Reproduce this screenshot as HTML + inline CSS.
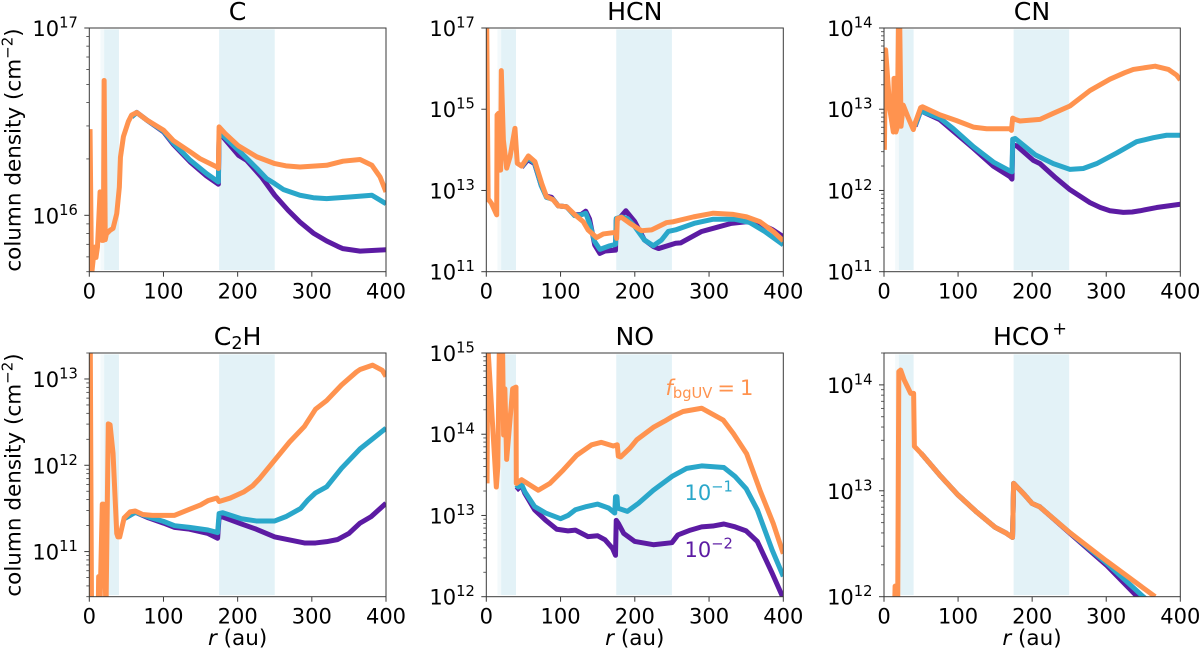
<!DOCTYPE html>
<html lang="en">
<head>
<meta charset="utf-8">
<title>Column density profiles</title>
<style>
  html,body{margin:0;padding:0;background:#fff;width:1200px;height:652px;overflow:hidden}
  svg{display:block;filter:blur(0.35px)}
  text{font-family:"DejaVu Sans","Liberation Sans",sans-serif;fill:#000}
  .title{font-size:25.2px;text-anchor:middle}
  .axis-label{font-size:21.5px}
  .tick{font-size:21px}
</style>
</head>
<body>
<svg id="figure" xmlns="http://www.w3.org/2000/svg" width="1200" height="652" viewBox="0 0 1200 652">
  <rect x="0" y="0" width="1200" height="652" fill="#fff"/>

  <g id="panel-c"></g>
  <g id="panel-hcn"></g>
  <g id="panel-cn"></g>
  <g id="panel-c2h"></g>
  <g id="panel-no"></g>
  <g id="panel-hco"></g>

  <text class="title" x="237.6" y="20">C</text>
  <text class="title" x="634.8" y="20">HCN</text>
  <text class="title" x="1032" y="20">CN</text>
  <text class="title" x="237.6" y="345">C<tspan font-size="17.6" dy="4">2</tspan><tspan dy="-4">H</tspan></text>
  <text class="title" x="634.8" y="345">NO</text>
  <text class="title" x="1030" y="345">HCO<tspan font-size="17.6" dy="-10.5" dx="3">+</tspan></text>

  <text class="axis-label" text-anchor="middle" transform="translate(20.5 150) rotate(-90)">column density (cm<tspan font-size="15" dy="-8">−2</tspan><tspan dy="8">)</tspan></text>
  <text class="axis-label" text-anchor="middle" transform="translate(20.5 475) rotate(-90)">column density (cm<tspan font-size="15" dy="-8">−2</tspan><tspan dy="8">)</tspan></text>

  <text class="axis-label" text-anchor="middle" x="237.6" y="645"><tspan font-style="italic">r</tspan> (au)</text>
  <text class="axis-label" text-anchor="middle" x="634.8" y="645"><tspan font-style="italic">r</tspan> (au)</text>
  <text class="axis-label" text-anchor="middle" x="1032" y="645"><tspan font-style="italic">r</tspan> (au)</text>

  <text x="665.5" y="395" font-size="21" style="fill:#FF934F"><tspan font-style="italic">f</tspan><tspan font-size="14.7" dy="3">bgUV</tspan><tspan dy="-3" dx="5">=</tspan><tspan dx="5">1</tspan></text>
  <text x="684.5" y="500" font-size="21" style="fill:#2AA7CA">10<tspan font-size="14.7" dy="-8.5">−1</tspan></text>
  <text x="684.5" y="557" font-size="21" style="fill:#5C1BA3">10<tspan font-size="14.7" dy="-8.5">−2</tspan></text>
</svg>

<script>
// ---- shared axis values ----
const xTickValues = [0, 100, 200, 300, 400];
const gapInnerFaint = [15, 20];
const gapInner = [20, 40];
const gapOuter = [175, 250];

// ---- y tick exponents per panel ----
const cTickExponents = [16, 17];
const hcnTickExponents = [11, 13, 15, 17];
const cnTickExponents = [11, 12, 13, 14];
const c2hTickExponents = [11, 12, 13];
const noTickExponents = [12, 13, 14, 15];
const hcoTickExponents = [12, 13, 14];

// ---- C: radius (au) and log10 column density ----
const cOrangeR = [1, 3, 7, 9, 11, 14.5, 17, 19, 20, 21.5, 23, 28, 32, 37, 40.5, 42, 46, 52.6, 57, 64, 77, 100, 113, 136, 149, 172, 174, 175, 183, 201, 226, 250, 265, 284, 320, 342, 365, 381, 392, 400];
const cOrangeLogN = [16.46, 15.68, 15.83, 15.775, 15.83, 16.125, 15.866, 15.866, 16.72, 15.87, 15.9, 15.92, 15.93, 16.009, 16.15, 16.31, 16.42, 16.5, 16.535, 16.549, 16.51, 16.455, 16.40, 16.339, 16.303, 16.258, 16.25, 16.472, 16.437, 16.371, 16.312, 16.276, 16.264, 16.258, 16.267, 16.289, 16.298, 16.267, 16.205, 16.125];
const cBlueR = [57, 64, 77, 100, 113, 136, 158, 174, 175, 181, 201, 226, 239, 250, 262, 284, 302, 320, 351, 381, 400];
const cBlueLogN = [16.526, 16.549, 16.51, 16.449, 16.387, 16.294, 16.223, 16.178, 16.446, 16.422, 16.348, 16.25, 16.196, 16.169, 16.137, 16.107, 16.094, 16.089, 16.098, 16.107, 16.062];
const cPurpleR = [57, 64, 77, 100, 113, 136, 158, 174, 175, 181, 201, 212, 232, 250, 268, 284, 302, 320, 335, 342, 365, 400];
const cPurpleLogN = [16.526, 16.549, 16.51, 16.446, 16.38, 16.285, 16.21, 16.166, 16.44, 16.415, 16.321, 16.294, 16.205, 16.107, 16.027, 15.964, 15.905, 15.863, 15.834, 15.822, 15.809, 15.816];

// ---- HCN ----
const hcnOrangeR = [0.5, 2.5, 3, 7, 14, 14.5, 16.6, 17.5, 19.3, 20.2, 23, 27.4, 32, 38.6, 41.7, 47.6, 56.6, 65.5, 74.5, 81, 90, 97, 108, 119.4, 130.6, 137, 148.6, 157.6, 174.6, 175.5, 176.5, 182, 193.5, 209, 222.7, 243, 252, 279, 305.7, 332.7, 350.6, 368.6, 386.5, 400];
const hcnOrangeLogN = [17.2, 12.765, 12.78, 12.68, 12.4, 14.86, 14.9, 13.5, 13.5, 15.95, 14.24, 13.55, 13.83, 14.53, 13.67, 13.6, 13.85, 13.71, 13.18, 12.85, 12.77, 12.62, 12.6, 12.4, 12.23, 12.03, 11.84, 11.93, 11.97, 11.82, 12.31, 12.34, 12.19, 12.01, 12.03, 12.21, 12.23, 12.35, 12.44, 12.41, 12.35, 12.23, 11.99, 11.76];
const hcnBlueR = [47.6, 56, 65, 74, 81, 90, 97, 108, 119, 128, 134, 139, 146, 153, 165, 174, 175, 182, 190, 200, 213, 225, 236, 245, 255, 280, 305, 335, 355, 375, 400];
const hcnBlueLogN = [13.58, 13.8, 13.68, 13.12, 12.83, 12.78, 12.62, 12.6, 12.38, 12.4, 12.44, 12.19, 11.74, 11.55, 11.63, 11.67, 12.31, 12.35, 12.31, 12.11, 11.78, 11.64, 11.78, 11.99, 12.03, 12.19, 12.29, 12.29, 12.21, 11.99, 11.66];
const hcnPurpleR = [47.6, 56, 65, 74, 81, 88, 97, 108, 119, 128, 134, 139, 146, 153, 160, 174, 175, 181, 188, 200, 213, 225, 232, 255, 262, 290, 310, 330, 350, 365, 385, 400];
const hcnPurpleLogN = [13.57, 13.76, 13.66, 13.12, 12.86, 12.83, 12.62, 12.6, 12.4, 12.41, 12.49, 12.3, 11.66, 11.45, 11.51, 11.53, 12.27, 12.35, 12.5, 12.23, 11.78, 11.62, 11.57, 11.7, 11.71, 11.99, 12.09, 12.19, 12.23, 12.21, 12.04, 11.86];

// ---- CN ----
const cnOrangeR = [0.5, 2.2, 8, 12.6, 13.5, 15.7, 16, 18, 19.8, 21, 23, 26, 33, 39.6, 42, 49.5, 52, 75.6, 98, 120.6, 138.6, 170, 172, 173.7, 177, 183.6, 210.6, 228.6, 251, 278, 305, 325, 336.6, 366, 384, 395, 400];
const cnOrangeLogN = [12.5, 13.73, 12.99, 12.72, 13.38, 13.38, 12.72, 12.78, 14.3, 14.2, 12.79, 13.05, 12.89, 12.75, 12.83, 13.02, 13.03, 12.93, 12.86, 12.78, 12.76, 12.76, 12.74, 12.89, 12.875, 12.855, 12.875, 12.95, 13.04, 13.23, 13.37, 13.45, 13.49, 13.53, 13.49, 13.42, 13.36];
const cnBlueR = [42, 49.5, 75.6, 93.6, 120.6, 147.6, 170, 172.8, 173.7, 177, 204, 228.6, 251, 269, 287, 314, 341, 363.6, 381.5, 400];
const cnBlueLogN = [12.8, 12.98, 12.89, 12.76, 12.54, 12.35, 12.24, 12.23, 12.63, 12.64, 12.44, 12.33, 12.26, 12.27, 12.33, 12.46, 12.6, 12.65, 12.68, 12.68];
const cnPurpleR = [42, 49.5, 75.6, 93.6, 120.6, 147.6, 170, 172.8, 173.7, 179, 201.6, 210.6, 230, 251, 278, 292, 305, 323, 335, 345.6, 368, 400];
const cnPurpleLogN = [12.79, 12.98, 12.87, 12.73, 12.52, 12.3, 12.17, 12.14, 12.56, 12.55, 12.37, 12.33, 12.17, 12.01, 11.85, 11.79, 11.75, 11.73, 11.735, 11.75, 11.79, 11.83];

// ---- C2H ----
const c2hOrangeR = [1, 3, 12, 12.6, 14, 17.5, 19, 22.5, 25.6, 28, 32, 37, 38.5, 41, 47, 55, 62, 72, 85, 115, 135, 150, 160, 172, 175, 190, 208, 220, 230, 250, 270, 290, 305, 320, 340, 360, 365, 382, 395, 400];
const c2hOrangeLogN = [14, 10.3, 10.3, 10.71, 10.2, 11.55, 11.55, 10.3, 12.48, 12.47, 12.14, 11.21, 11.17, 11.17, 11.39, 11.46, 11.47, 11.43, 11.42, 11.42, 11.49, 11.54, 11.59, 11.62, 11.58, 11.62, 11.69, 11.76, 11.85, 12.06, 12.27, 12.45, 12.65, 12.75, 12.93, 13.08, 13.11, 13.16, 13.1, 13.03];
const c2hBlueR = [47, 62, 80, 100, 115, 135, 160, 173, 175, 180, 205, 225, 250, 265, 285, 295, 305, 320, 340, 365, 400];
const c2hBlueLogN = [11.38, 11.456, 11.40, 11.35, 11.30, 11.28, 11.25, 11.22, 11.44, 11.45, 11.38, 11.355, 11.355, 11.405, 11.50, 11.6, 11.68, 11.75, 11.965, 12.19, 12.43];
const c2hPurpleR = [47, 62, 80, 100, 115, 135, 160, 173, 175, 180, 205, 225, 250, 270, 290, 305, 320, 335, 350, 365, 380, 400];
const c2hPurpleLogN = [11.38, 11.456, 11.39, 11.33, 11.28, 11.26, 11.21, 11.155, 11.40, 11.40, 11.32, 11.26, 11.17, 11.135, 11.10, 11.10, 11.115, 11.14, 11.21, 11.33, 11.405, 11.56];

// ---- NO ----
const noOrangeR = [1, 2, 13.5, 15.5, 18, 21.5, 23.3, 25, 27.4, 35.5, 40, 40.4, 47.6, 58.8, 70, 85.7, 103.7, 121.7, 141.9, 155, 171, 176.4, 177.8, 181, 193.5, 202.5, 225, 240, 252, 265, 290, 319, 332.6, 350.6, 368.6, 386.5, 400];
const noOrangeLogN = [13.395, 15.1, 13.35, 13.6, 15.4, 15.4, 13.99, 14.56, 13.69, 14.56, 14.58, 13.395, 13.44, 13.375, 13.31, 13.395, 13.56, 13.74, 13.87, 13.90, 13.855, 13.87, 13.73, 13.72, 13.83, 13.93, 14.085, 14.16, 14.225, 14.28, 14.32, 14.175, 14.01, 13.76, 13.31, 12.90, 12.53];
const noBlueR = [40.5, 43, 46, 52, 65, 80, 100, 110, 120, 135, 150, 165, 173, 174, 176, 177, 190, 205, 225, 250, 270, 290, 320, 335, 350, 365, 385, 400];
const noBlueLogN = [13.375, 13.35, 13.415, 13.29, 13.11, 13.03, 12.96, 13.0, 13.07, 13.11, 13.14, 13.09, 13.03, 13.23, 13.23, 13.09, 13.05, 13.15, 13.31, 13.48, 13.58, 13.61, 13.59, 13.48, 13.33, 13.07, 12.575, 12.25];
const noPurpleR = [40.5, 43, 46, 52, 65, 80, 95, 110, 120, 137, 150, 160, 170, 174, 175, 178, 185, 200, 225, 250, 258, 275, 290, 305, 320, 335, 350, 365, 385, 400];
const noPurpleLogN = [13.31, 13.33, 13.41, 13.27, 13.07, 12.94, 12.83, 12.81, 12.82, 12.74, 12.75, 12.70, 12.595, 12.51, 12.94, 12.90, 12.78, 12.68, 12.64, 12.665, 12.76, 12.82, 12.86, 12.87, 12.895, 12.86, 12.81, 12.68, 12.29, 11.98];

// ---- HCO+ ----
const hcoOrangeR = [14, 15, 17, 18.5, 20, 22.5, 27, 36, 40, 41, 50, 75, 100, 125, 150, 165, 173.5, 175, 190, 200, 210, 250, 300, 366];
const hcoOrangeLogN = [11.8, 12.1, 12.1, 11.9, 14.126, 14.14, 14.05, 13.92, 13.92, 13.42, 13.354, 13.15, 12.96, 12.80, 12.655, 12.6, 12.56, 13.07, 12.96, 12.88, 12.85, 12.61, 12.34, 12.0];
const hcoBlueR = [50, 75, 100, 125, 150, 165, 173.5, 175, 190, 200, 210, 250, 300, 350, 370];
const hcoBlueLogN = [13.354, 13.15, 12.96, 12.80, 12.655, 12.6, 12.56, 13.07, 12.96, 12.88, 12.85, 12.61, 12.32, 12.0, 11.88];
const hcoPurpleR = [50, 75, 100, 125, 150, 165, 173.5, 175, 190, 200, 210, 250, 300, 342, 370];
const hcoPurpleLogN = [13.354, 13.15, 12.96, 12.80, 12.655, 12.6, 12.56, 13.07, 12.96, 12.88, 12.85, 12.605, 12.30, 12.0, 11.8];

const purpleColor = '#5C1BA3';
const blueColor = '#2AA7CA';
const orangeColor = '#FF934F';
const bandColor = '#E3F2F7';
const bandFaintColor = '#F3F9FB';
const spineColor = '#3a3a3a';
const SVGNS = 'http://www.w3.org/2000/svg';

const panels = [
  {key:'c', left:89.3, right:386, top:28, bottom:271.7, logMin:Math.log10(5e15), logMax:17, minor:true, ticks:cTickExponents,
   orange:[cOrangeR,cOrangeLogN], blue:[cBlueR,cBlueLogN], purple:[cPurpleR,cPurpleLogN]},
  {key:'hcn', left:486.3, right:783.3, top:28, bottom:271.7, logMin:11, logMax:17, minor:false, ticks:hcnTickExponents,
   orange:[hcnOrangeR,hcnOrangeLogN], blue:[hcnBlueR,hcnBlueLogN], purple:[hcnPurpleR,hcnPurpleLogN]},
  {key:'cn', left:884, right:1180.3, top:28, bottom:271.7, logMin:11, logMax:14, minor:true, ticks:cnTickExponents,
   orange:[cnOrangeR,cnOrangeLogN], blue:[cnBlueR,cnBlueLogN], purple:[cnPurpleR,cnPurpleLogN]},
  {key:'c2h', left:89.3, right:386, top:353, bottom:596.7, logMin:Math.log10(3e10), logMax:Math.log10(2e13), minor:true, ticks:c2hTickExponents,
   orange:[c2hOrangeR,c2hOrangeLogN], blue:[c2hBlueR,c2hBlueLogN], purple:[c2hPurpleR,c2hPurpleLogN]},
  {key:'no', left:486.3, right:783.3, top:353, bottom:596.7, logMin:12, logMax:15, minor:true, ticks:noTickExponents,
   orange:[noOrangeR,noOrangeLogN], blue:[noBlueR,noBlueLogN], purple:[noPurpleR,noPurpleLogN]},
  {key:'hco', left:884, right:1180.3, top:353, bottom:596.7, logMin:12, logMax:Math.log10(2e14), minor:true, ticks:hcoTickExponents,
   orange:[hcoOrangeR,hcoOrangeLogN], blue:[hcoBlueR,hcoBlueLogN], purple:[hcoPurpleR,hcoPurpleLogN]}
];

function xScale(p, r) { return p.left + (r / 400) * (p.right - p.left); }
function yScale(p, logN) { return p.bottom - (logN - p.logMin) / (p.logMax - p.logMin) * (p.bottom - p.top); }

function make(tag, attrs, parent) {
  const el = document.createElementNS(SVGNS, tag);
  for (const k in attrs) el.setAttribute(k, attrs[k]);
  parent.appendChild(el);
  return el;
}

function drawBand(p, g, range, color, label) {
  const x0 = xScale(p, range[0]);
  const x1 = xScale(p, range[1]);
  const el = make('rect', {x:x0, y:p.top + 1.4, width:x1 - x0, height:p.bottom - p.top - 3, fill:color}, g);
  
  
}

function drawSeries(p, g, series, color, label) {
  const rs = series[0];
  const vals = series[1];
  let d = '';
  for (let i = 0; i < rs.length; i++) {
    d += (i ? 'L' : 'M') + xScale(p, rs[i]).toFixed(2) + ' ' + yScale(p, vals[i]).toFixed(2);
  }
  const el = make('path', {d:d, fill:'none', stroke:color, 'stroke-width':5, 'stroke-linejoin':'round', 'stroke-linecap':'butt', 'clip-path':'url(#clip-' + p.key + ')'}, g);
  
  
}

function drawPanel(p) {
  const g = document.getElementById('panel-' + p.key);
  const defs = make('defs', {}, g);
  const clip = make('clipPath', {id:'clip-' + p.key}, defs);
  make('rect', {x:p.left, y:p.top, width:p.right - p.left, height:p.bottom - p.top}, clip);

  drawBand(p, g, gapInnerFaint, bandFaintColor, 'inner-gap-edge');
  drawBand(p, g, gapInner, bandColor, 'inner-gap');
  drawBand(p, g, gapOuter, bandColor, 'outer-gap');

  drawSeries(p, g, p.purple, purpleColor, 'fbguv-0-01');
  drawSeries(p, g, p.blue, blueColor, 'fbguv-0-1');
  drawSeries(p, g, p.orange, orangeColor, 'fbguv-1');

  const frame = make('rect', {x:p.left, y:p.top, width:p.right - p.left, height:p.bottom - p.top, fill:'none', stroke:spineColor, 'stroke-width':1}, g);
  
  

  xTickValues.forEach(function (v) {
    const x = xScale(p, v);
    const tick = make('line', {x1:x, x2:x, y1:p.bottom, y2:p.bottom + 5, stroke:spineColor, 'stroke-width':1}, g);
    
    
    const label = make('text', {x:x, y:p.bottom + 27, 'text-anchor':'middle', 'class':'tick'}, g);
    
    
    label.textContent = String(v);
  });

  p.ticks.forEach(function (exp) {
    const y = yScale(p, exp);
    const tick = make('line', {x1:p.left - 5, x2:p.left, y1:y, y2:y, stroke:spineColor, 'stroke-width':1}, g);
    
    
    const label = make('text', {x:p.left - 11.5, y:y + 8, 'text-anchor':'end', 'class':'tick'}, g);
    
    
    const base = make('tspan', {}, label);
    base.textContent = '10';
    const sup = make('tspan', {'font-size':14.7, dy:-8.5}, label);
    sup.textContent = String(exp);
  });

  if (p.minor) {
    for (let d = Math.floor(p.logMin); d < Math.ceil(p.logMax); d++) {
      for (let m = 2; m <= 9; m++) {
        const lv = d + Math.log10(m);
        if (lv < p.logMin - 1e-6 || lv > p.logMax + 1e-6) continue;
        const y = yScale(p, lv);
        const minorTick = make('line', {x1:p.left - 3, x2:p.left, y1:y, y2:y, stroke:spineColor, 'stroke-width':0.8}, g);
        
        
      }
    }
  }
}

panels.forEach(drawPanel);
</script>
</body>
</html>
